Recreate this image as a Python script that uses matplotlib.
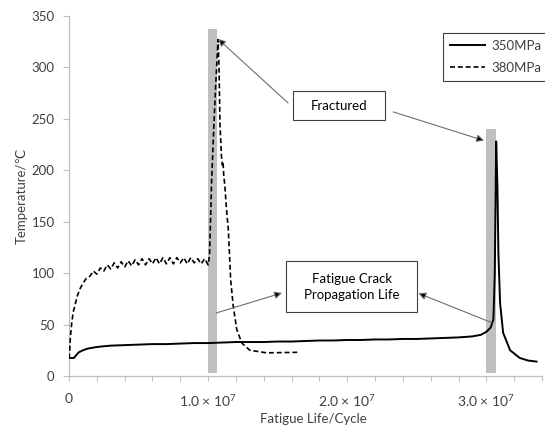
import numpy as np
import matplotlib
matplotlib.use("Agg")
import matplotlib.pyplot as plt
from matplotlib.patches import Rectangle
from matplotlib.ticker import FixedLocator, MultipleLocator

# fatigue life in units of 1e6 cycles, temperature in degC
life_350 = [0, 0.1, 0.35, 0.5, 0.7, 1.0, 1.3, 1.7, 2.2, 3.0, 4.0, 5.0, 6.0, 7.0,
            8.0, 9.0, 10.0, 11.0, 12.0, 13.0, 14.0, 15.0, 16.0, 17.0, 18.0, 19.0,
            20.0, 21.0, 22.0, 23.0, 24.0, 25.0, 26.0, 27.0, 28.0, 29.0, 29.6, 30.0,
            30.3, 30.5, 30.6, 30.7, 30.79, 30.86, 30.98, 31.2, 31.7, 32.4, 33.0, 33.6]
temp_350 = [18, 17.5, 17.5, 20, 23, 25, 26.5, 27.5, 28.5, 29.5, 30, 30.5, 31, 31,
            31.5, 32, 32, 32.5, 33, 33, 33, 33.5, 33.5, 34, 34.5, 34.5,
            35, 35, 35.5, 35.5, 36, 36, 36.5, 37, 37.5, 38.5, 40, 43,
            47, 55, 100, 228, 184, 119, 71, 42, 25, 17.5, 15, 14]

life_380 = [0, 0.05, 0.1, 0.2, 0.3, 0.45, 0.6, 0.8, 1.0, 1.25,
            1.5, 1.75, 2.0, 2.25, 2.5, 2.75, 3.0, 3.25, 3.5, 3.75, 4.0, 4.25,
            4.5, 4.75, 5.0, 5.25, 5.5, 5.75, 6.0, 6.25, 6.5, 6.75, 7.0, 7.25,
            7.5, 7.75, 8.0, 8.25, 8.5, 8.75, 9.0, 9.25, 9.5, 9.75, 10.0,
            10.1, 10.25, 10.4, 10.55, 10.71, 10.78, 10.85, 10.95, 11.02, 11.07,
            11.12, 11.2, 11.3, 11.45, 11.62, 11.81, 12.06, 12.42, 13.0, 14.2, 16.4]
temp_380 = [17, 25, 38, 52, 62, 70, 78, 85, 90, 95,
            97, 102, 99, 105, 102, 108, 104, 110, 105, 111, 106, 112,
            107, 113, 108, 114, 108, 114, 109, 115, 109, 115, 109, 115,
            109, 115, 110, 115, 109, 115, 110, 114, 109, 114, 108,
            118, 190, 240, 285, 327, 300, 245, 215, 205, 208,
            195, 185, 165, 142, 93, 67, 45, 32, 25, 22.5, 23]

# grey bands marking the fracture stage
band_start = [10.0, 29.98]
band_end = [10.65, 30.68]
band_top = [337, 240]
band_bottom = 3

xtick_major = [0, 10, 20, 30]
xtick_text = ["0", "1.0 × 10$^{7}$", "2.0 × 10$^{7}$", "3.0 × 10$^{7}$"]
ytick_values = [0, 50, 100, 150, 200, 250, 300, 350]

plt.rcParams["font.family"] = ["Lato", "DejaVu Sans"]
plt.rcParams["mathtext.fontset"] = "custom"
plt.rcParams["mathtext.rm"] = "Lato"
plt.rcParams["mathtext.default"] = "regular"

W, H = 545, 427
TXT = "#404040"
GRID = "#bfbfbf"
FS = 9.5

# small offset so the pixel size rounds to exactly 545x427
fig = plt.figure(figsize=(W / 100 + 0.001, H / 100 + 0.001), dpi=100)
ax = fig.add_axes([69 / W, 1 - 376 / H, 473 / W, 360 / H])

s = 1e6
ax.bar(np.array(band_start) * s, np.array(band_top) - band_bottom,
       width=(np.array(band_end) - np.array(band_start)) * s,
       bottom=band_bottom, align="edge", color=GRID, zorder=1)

ax.plot(np.array(life_350) * s, temp_350, color="black", lw=1.4,
        label="350MPa", zorder=3)
ax.plot(np.array(life_380) * s, temp_380, color="black", lw=1.2,
        dashes=(3.0, 1.7), label="380MPa", zorder=3)

ax.set_xlim(0, 34e6)
ax.set_ylim(0, 350)

# labelled ticks every 1e7, plain ticks every 2e6
ax.xaxis.set_major_locator(FixedLocator(np.array(xtick_major) * s))
ax.set_xticklabels(xtick_text)
ax.xaxis.set_minor_locator(MultipleLocator(2e6))
ax.set_yticks(ytick_values)

for side in ["top", "right"]:
    ax.spines[side].set_visible(False)
for side in ["left", "bottom"]:
    ax.spines[side].set_color(GRID)
    ax.spines[side].set_linewidth(0.9)

ax.tick_params(axis="x", which="both", length=3.4, width=0.8, color=GRID, pad=9,
               labelsize=FS + 0.5, labelcolor=TXT)
ax.tick_params(axis="y", length=4.3, width=0.8, color=GRID, pad=6,
               labelsize=FS, labelcolor=TXT)

ax.set_xlabel("Fatigue Life/Cycle", fontsize=FS, color=TXT)
ax.xaxis.set_label_coords(0.516, -0.103)
ax.set_ylabel("Temperature/℃", fontsize=FS, color=TXT)
ax.yaxis.set_label_coords(-0.088, 0.5)

leg = fig.legend(loc="upper left", bbox_to_anchor=(443 / W, 1 - 33 / H),
                 borderaxespad=0, fontsize=FS, handlelength=2.65,
                 handletextpad=0.5, labelspacing=0.8, borderpad=0.5,
                 fancybox=False, framealpha=1, edgecolor=TXT)
leg.get_frame().set_linewidth(0.8)
for t in leg.get_texts():
    t.set_color(TXT)

arrow = dict(arrowstyle="-|>", fc="black", ec="#6e6e6e", lw=0.8,
             mutation_scale=11, shrinkA=0, shrinkB=0)
# Fractured arrows
ax.annotate("", xy=(10.71e6, 327.6), xytext=(15.74e6, 265.4), arrowprops=arrow, zorder=4)
ax.annotate("", xy=(29.83e6, 228.8), xytext=(23.3e6, 256.7), arrowprops=arrow, zorder=4)
# crack propagation arrows
ax.annotate("", xy=(15.31e6, 80.7), xytext=(10.57e6, 61.2), arrowprops=arrow, zorder=4)
ax.annotate("", xy=(25.11e6, 80.4), xytext=(30.39e6, 51.8), arrowprops=arrow, zorder=4)


def fig_box(x0, y0, x1, y1):
    fig.add_artist(Rectangle((x0 / W, 1 - y1 / H), (x1 - x0) / W, (y1 - y0) / H,
                             transform=fig.transFigure, fc="white", ec=TXT, lw=0.8))


fig_box(293, 91, 385, 120)
fig.text(339 / W, 1 - 105.5 / H, "Fractured", ha="center", va="center",
         fontsize=FS, color="black")
fig_box(286, 261, 417, 312)
fig.text(351.5 / W, 1 - 286.5 / H, "Fatigue Crack\nPropagation Life", ha="center",
         va="center", fontsize=FS, color="black", linespacing=1.4)

fig.savefig("out.png", dpi=100)
